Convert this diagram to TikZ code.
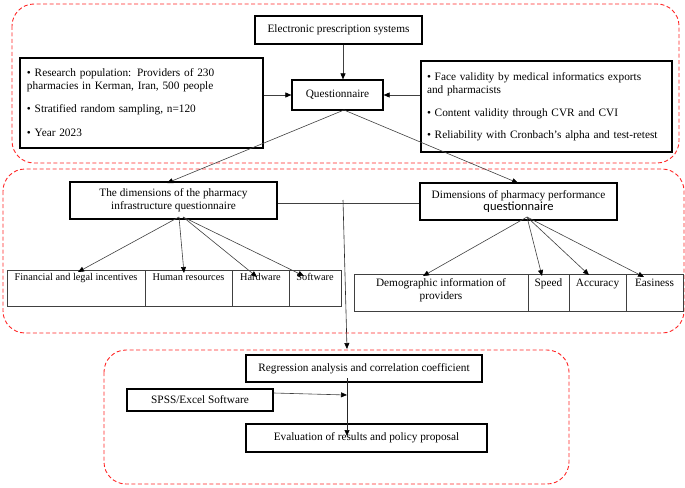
\documentclass[tikz,border=0pt]{standalone}
\usepackage{fontspec}
\setmainfont{Liberation Serif}
\newfontfamily\calib{Carlito}
\usetikzlibrary{arrows.meta,calc}
\begin{document}
\begin{tikzpicture}[x=1pt,y=-1pt,
  box/.style={draw=black,line width=1.2pt,inner sep=0pt,font=\fontsize{11.3}{13}\selectfont,align=center},
  cell/.style={draw=black!75,line width=0.9pt,inner sep=0pt},
  ctxt/.style={inner sep=0pt,font=\fontsize{10.3}{13}\selectfont,align=center,anchor=base},
  rtxt/.style={ctxt,font=\fontsize{11.3}{13}\selectfont},
  region/.style={draw=red!85!white,dash pattern=on 4pt off 2.5pt,line width=0.9pt,rounded corners=22pt},
  conn/.style={draw=black!75,line width=0.6pt},
  arr/.style={conn,-{Triangle[length=6pt,width=5pt,fill=black,color=black]}}
]
\useasboundingbox (0,0) rectangle (685,487);
% regions
\draw[region] (12,4) rectangle (679,163);
\draw[region] (3,169) rectangle (684,333);
\draw[region] (104,350) rectangle (569,484);

% top part
\node[box,minimum width=167,minimum height=28] (eps) at (338.5,30) {Electronic prescription systems};
\node[box,minimum width=243,minimum height=90,text width=229,align=left] (pop) at (141.5,103)
  {• Research population: Providers of 230\\pharmacies in Kerman, Iran, 500 people\\[10pt]
   • Stratified random sampling, n=120\\[11pt]• Year 2023};
\node[box,minimum width=91,minimum height=30] (q) at (337.5,95) {Questionnaire};
\node[box,minimum width=251,minimum height=91,text width=239,align=left] (val) at (546.5,106.5)
  {• Face validity by medical informatics exports\\and pharmacists\\[10pt]
   • Content validity through CVR and CVI\\[9pt]
   • Reliability with Cronbach's alpha and test-retest};

\coordinate (qs) at (344,110);
\coordinate (infratop) at (167,183);
\coordinate (perftop) at (518,183);

% middle part
\node[box,minimum width=207,minimum height=37] (infra) at (173.5,200.5)
  {The dimensions of the pharmacy\\infrastructure questionnaire};
\node[box,minimum width=197,minimum height=37] (perf) at (518.5,201.5)
  {Dimensions of pharmacy performance\\[-1pt]{\calib\fontsize{12.5}{13}\selectfont questionnaire}};

% left table
\node[cell,minimum width=138,minimum height=36] (fin) at (76,288) {};
\node[cell,minimum width=87,minimum height=36] (hum) at (188.5,288) {};
\node[cell,minimum width=57,minimum height=36] (hard) at (260.5,288) {};
\node[cell,minimum width=52,minimum height=36] (soft) at (315,288) {};
\node[ctxt] (fint) at (76,280) {Financial and legal incentives};
\node[ctxt] (humt) at (188.5,280) {Human resources};
\node[ctxt] (hardt) at (260.5,280) {Hardware};
\node[ctxt] (softt) at (315,280) {Software};

% right table
\node[cell,minimum width=174,minimum height=37] (demo) at (441,292.5) {};
\node[cell,minimum width=41,minimum height=37] (spd) at (548.5,292.5) {};
\node[cell,minimum width=57,minimum height=37] (acc) at (597.5,292.5) {};
\node[cell,minimum width=57,minimum height=37] (eas) at (654.5,292.5) {};
\node[rtxt] (demot) at (441,299.5) {Demographic information of\\providers};
\node[rtxt] (spdt) at (548.5,286) {Speed};
\node[rtxt] (acct) at (597.5,286) {Accuracy};
\node[rtxt] (east) at (654.5,286) {Easiness};

% bottom part
\node[box,minimum width=236,minimum height=27] (reg) at (364,368.5) {Regression analysis and correlation coefficient};
\node[box,minimum width=146,minimum height=22] (spss) at (200,400) {SPSS/Excel Software};
\node[box,minimum width=241,minimum height=28] (eval) at (366.5,438) {Evaluation of results and policy proposal};

% connectors top
\draw[arr] (eps.south -| 343,0) -- (q.north -| 343,0);
\draw[arr] (pop.east |- 0,95) -- (q.west |- 0,95);
\draw[arr] (val.west |- 0,95) -- (q.east |- 0,95);
\draw[arr] (qs) -- (infratop);
\draw[arr] (qs) -- (perftop);

% fan-out coordinates
\coordinate (io1) at (179,217);
\coordinate (io2) at (183,217);
\coordinate (po) at (527,217);
\coordinate (tfin) at (78,272);
\coordinate (thum) at (184,273);
\coordinate (thard) at (257,277);
\coordinate (tsoft) at (304,276);
\coordinate (tdemo) at (423,276);
\coordinate (tspd) at (542,276);
\coordinate (tacc) at (589,275);
\coordinate (teas) at (644,277);
\draw[arr] (io1) -- (tfin);
\draw[arr] (io1) -- (thum);
\draw[arr] (io2) -- (thard);
\draw[arr] (io2) -- (tsoft);
\draw[arr] (po) -- (tdemo);
\draw[arr] (po) -- (tspd);
\draw[arr] (po) -- (tacc);
\draw[arr] (po) -- (teas);

% join line
\coordinate (jn) at (343,203);
\coordinate (jtop) at (343,200);
\coordinate (jend) at (347,349);
\draw[conn] (infra.east |- jn) -- (perf.west |- jn);
\draw[arr,draw=black!85] (jtop) -- (jend);

% bottom connectors
\coordinate (rs) at (347,378);
\coordinate (ev) at (347,436);
\coordinate (sp) at (347,395);
\draw[arr,draw=black!85] (rs) -- (ev);
\draw[arr] (spss.east |- 0,393) -- (sp);
\end{tikzpicture}
\end{document}
